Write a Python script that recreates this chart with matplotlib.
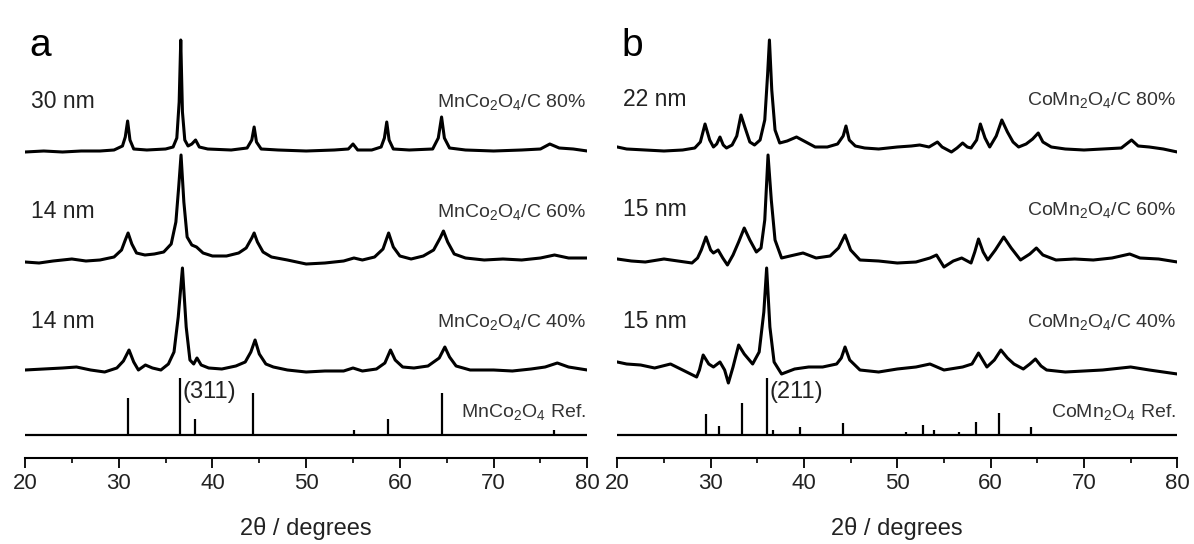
import matplotlib
matplotlib.use("Agg")
import matplotlib.pyplot as plt
from matplotlib.ticker import MultipleLocator

plt.rcParams['font.family'] = ['Liberation Sans', 'DejaVu Sans']
plt.rcParams['mathtext.fontset'] = 'custom'
plt.rcParams['mathtext.rm'] = 'Liberation Sans'
plt.rcParams['mathtext.it'] = 'Liberation Sans:italic'

# ---- panel a: MnCo2O4/C, traced diffractograms (2theta, intensity a.u.) ----
a80_x = [20, 22, 24, 26, 28, 29.5, 30.4, 30.7, 30.95, 31.2, 31.6, 33, 35, 35.8, 36.2, 36.45,
         36.62, 36.8, 37.05, 37.4, 37.8, 38.2, 38.6, 39.5, 42, 43.7, 44.2, 44.45, 44.7, 45.2,
         47, 50, 53, 54.5, 55.0, 55.5, 57, 58.0, 58.35, 58.6, 58.85, 59.3, 61, 63.5, 64.1,
         64.45, 64.75, 65.3, 67, 70, 73, 75, 76.0, 77, 78.5, 80]
a80_y = [0, 1, 0, 1, 1, 2, 6, 15, 31, 12, 3, 2, 3, 5, 14, 50,
         112, 40, 12, 6, 8, 12, 5, 3, 2, 4, 12, 25, 10, 3,
         2, 1, 2, 3, 8, 2, 2, 5, 14, 30, 12, 3, 2, 3, 14,
         35, 14, 4, 2, 1, 2, 3, 8, 4, 3, 1]

a60_x = [20, 21.5, 23, 25, 26.5, 28, 29.5, 30.3, 30.7, 31.0, 31.4, 31.9, 32.8, 33.8, 34.8,
         35.6, 36.1, 36.4, 36.65, 36.95, 37.3, 37.8, 38.3, 39.0, 40, 41.5, 42.8, 43.6, 44.2,
         44.45, 44.8, 45.4, 46.3, 48, 50, 52, 54, 55.1, 56, 57.3, 58.2, 58.8, 59.3, 60.0,
         61.2, 62.5, 63.6, 64.3, 64.65, 65.1, 65.8, 67, 69, 71, 73, 75, 76.5, 78, 80]
a60_y = [0, -1, 1, 3, 1, 2, 5, 12, 22, 29, 18, 9, 7, 8, 10,
         18, 40, 75, 107, 60, 25, 17, 15, 9, 6, 6, 9, 14, 24,
         29, 20, 10, 5, 2, -2, -1, 1, 4, 2, 5, 13, 29, 15, 6,
         3, 6, 12, 24, 31, 20, 8, 4, 2, 3, 2, 4, 7, 4, 4]

a40_x = [20, 22, 24, 25.5, 27, 28.5, 29.8, 30.5, 31.1, 31.6, 32.1, 32.85, 33.6, 34.5, 35.3,
         35.9, 36.35, 36.8, 37.2, 37.6, 38.0, 38.35, 38.8, 39.6, 41, 42.5, 43.5, 44.1, 44.55,
         45.0, 45.7, 46.5, 48, 50, 52, 54, 55.0, 56, 57.5, 58.4, 59.0, 59.5, 60.3, 61.5, 63,
         64.2, 64.8, 65.3, 66, 67.5, 70, 72, 74, 75.5, 76.8, 78, 80]
a40_y = [2, 3, 4, 5, 2, 0, 4, 11, 22, 10, 2, 7, 4, 2, 8,
         20, 55, 104, 45, 12, 8, 14, 7, 4, 3, 6, 10, 20, 32,
         18, 8, 5, 2, 0, 1, 1, 4, 1, 3, 9, 22, 12, 5, 4, 6,
         14, 25, 15, 6, 2, 2, 1, 3, 5, 9, 5, 2]

a_ref_pos = [31.0, 36.5, 38.1, 44.3, 55.1, 58.7, 64.5, 76.5]
a_ref_int = [36.7, 57, 15.7, 42, 5, 15.7, 42, 5]

# ---- panel b: CoMn2O4/C ----
b80_x = [20, 21, 23, 25, 27, 28.3, 28.9, 29.4, 29.9, 30.3, 30.65, 31.0, 31.35, 31.7, 32.3,
         32.8, 33.25, 33.7, 34.2, 34.7, 35.3, 35.8, 36.1, 36.3, 36.55, 36.9, 37.4, 38.2, 39.2,
         40.2, 41.2, 42.5, 43.6, 44.2, 44.5, 44.85, 45.5, 46.5, 48, 50, 51.5, 52.4, 53.4,
         54.3, 54.8, 55.8, 56.4, 57.0, 57.5, 57.9, 58.5, 58.9, 59.4, 59.9, 60.6, 61.2, 61.8,
         62.4, 63.0, 63.8, 64.5, 65.1, 65.6, 66.5, 68, 70, 72, 74, 75.1, 75.8, 77, 78.5, 80]
b80_y = [3, 1, 0, -1, 0, 2, 8, 26, 10, 3, 6, 13, 5, 2, 5,
         14, 35, 22, 8, 5, 10, 30, 75, 110, 60, 20, 7, 9, 13,
         8, 3, 3, 6, 14, 24, 10, 4, 2, 1, 3, 4, 5, 3,
         8, 3, -2, 2, 7, 3, 2, 10, 26, 12, 3, 14, 30, 18,
         8, 3, 6, 11, 17, 8, 3, 1, 0, 1, 2, 10, 4, 3, 1, -2]

b60_x = [20, 21.5, 23, 25, 26.5, 28.0, 28.6, 29.0, 29.5, 30.0, 30.3, 30.8, 31.3, 31.8, 32.4,
         33.0, 33.6, 34.2, 34.9, 35.4, 35.8, 36.15, 36.5, 36.9, 37.6, 38.5, 39.9, 41.3, 42.8,
         43.7, 44.4, 45.0, 46, 48, 50, 52, 53.5, 54.2, 55.0, 56.0, 56.9, 57.9, 58.3, 58.7,
         59.2, 59.7, 60.5, 61.4, 62.2, 63.2, 64.2, 64.9, 65.6, 67, 69, 71, 73, 74.9, 76, 78, 80]
b60_y = [1, -1, -2, 1, -1, -3, 2, 10, 23, 10, 7, 10, 2, -5, 5,
         18, 32, 20, 8, 12, 40, 105, 60, 20, 2, 4, 7, 2, 4,
         12, 25, 10, 0, -1, -3, -2, 2, 5, -7, -1, 2, -3, 8, 21,
         8, 0, 10, 23, 12, 0, 6, 12, 5, 0, 1, 0, 2, 6, 2, 1, -2]

b40_x = [20, 21, 22.5, 24, 25.7, 27, 28.5, 28.8, 29.2, 29.8, 30.3, 31.0, 31.5, 31.9, 32.4,
         33.0, 33.6, 34.5, 35.2, 35.7, 36.0, 36.35, 36.8, 37.6, 39, 40.5, 42, 43.5, 44.0,
         44.4, 44.9, 46, 48, 50, 52, 53.5, 55, 57, 58.0, 58.7, 59.6, 60.4, 61.1, 61.8, 62.5,
         63.5, 64.2, 64.8, 65.4, 66, 68, 70, 72, 75, 77, 78.5, 80]
b40_y = [10, 8, 7, 4, 8, 2, -5, 2, 17, 8, 5, 10, 2, -11, 5,
         27, 18, 8, 20, 60, 104, 45, 10, -2, 3, 5, 5, 8, 14,
         25, 12, 2, 0, 3, 5, 8, 2, 5, 8, 19, 5, 12, 22, 14, 8,
         3, 8, 13, 6, 2, 0, 1, 2, 5, 2, 0, -2]

b_ref_pos = [29.5, 30.9, 33.4, 36.0, 36.65, 39.6, 44.2, 50.9, 52.7, 53.9, 56.6, 58.4, 60.85, 64.3]
b_ref_int = [20.7, 9.3, 32.3, 56.7, 5, 8.3, 11.7, 3.5, 10, 5, 3.5, 13.3, 21.7, 8.3]

a_sizes = ['30 nm', '14 nm', '14 nm']
b_sizes = ['22 nm', '15 nm', '15 nm']
loadings = ['80%', '60%', '40%']

# vertical stacking of the patterns
a_offsets = [306, 196, 86]
b_offsets = [308, 198, 86]
ref_offset = 23

fig = plt.figure(figsize=(11.94, 5.44), dpi=100)
ax_a = fig.add_axes([25 / 1194, 86 / 544, 562.3 / 1194, 458 / 544])
ax_b = fig.add_axes([617.3 / 1194, 86 / 544, 560 / 1194, 458 / 544])


def draw_panel(ax, curves, offsets, sizes, phase, ref_pos, ref_int, hkl, letter):
    for (x, y), off, size, load in zip(curves, offsets, sizes, loadings):
        ax.plot(x, [v + off for v in y], color='black', lw=2.2)
        ax.text(20.6, off + 50, size, fontsize=16.5, va='center', ha='left', color='#222222')
        ax.text(79.9, off + 50, phase + '/C ' + load, fontsize=14, va='center', ha='right',
                color='#333333')
    ax.hlines(ref_offset, 20, 80, color='black', lw=1.6)
    ax.vlines(ref_pos, ref_offset, [ref_offset + h for h in ref_int], color='black', lw=1.6)
    main = ref_pos[ref_int.index(max(ref_int))]
    ax.text(main + 0.3, ref_offset + 43, hkl, fontsize=17, va='center', ha='left',
            color='#222222')
    ax.text(79.9, ref_offset + 23, phase + ' Ref.', fontsize=14, va='center', ha='right',
            color='#333333')
    ax.text(20.5, 412, letter, fontsize=28, va='center', ha='left')

    ax.set_xlim(20, 80)
    ax.set_ylim(0, 458)
    for side in ['top', 'left', 'right']:
        ax.spines[side].set_visible(False)
    ax.spines['bottom'].set_linewidth(1.5)
    ax.set_yticks([])
    ax.xaxis.set_major_locator(MultipleLocator(10))
    ax.xaxis.set_minor_locator(MultipleLocator(5))
    ax.tick_params(axis='x', which='major', direction='out', length=7, width=1.3,
                   labelsize=16, pad=4, labelcolor='#222222')
    ax.tick_params(axis='x', which='minor', direction='out', length=3.5, width=1.2)
    ax.set_xlabel('2θ / degrees', fontsize=17, labelpad=16, color='#222222')
    ax.patch.set_alpha(0)


draw_panel(ax_a, [(a80_x, a80_y), (a60_x, a60_y), (a40_x, a40_y)], a_offsets, a_sizes,
           r'MnCo$_\mathrm{2}$O$_\mathrm{4}$', a_ref_pos, a_ref_int, '(311)', 'a')
draw_panel(ax_b, [(b80_x, b80_y), (b60_x, b60_y), (b40_x, b40_y)], b_offsets, b_sizes,
           r'CoMn$_\mathrm{2}$O$_\mathrm{4}$', b_ref_pos, b_ref_int, '(211)', 'b')

fig.savefig('out.png', dpi=100, facecolor='white')
